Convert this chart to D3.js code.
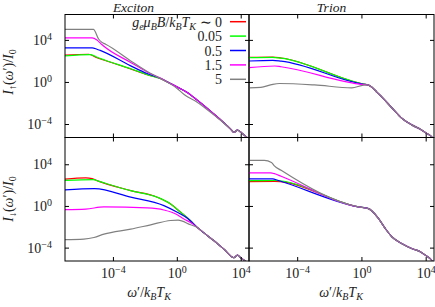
<!DOCTYPE html>
<html>
<head>
<meta charset="utf-8">
<style>
  body { margin: 0; background: #fff; }
  svg text { font-family: "Liberation Serif", serif; fill: #222; }
  svg .tick text { font-size: 14px; }
  svg .tick line { stroke: #000; stroke-width: 1px; }
  svg .frame { fill: none; stroke: #000; stroke-width: 1px; }
  svg .curve { fill: none; stroke-width: 1.2px; stroke-linejoin: round; }
</style>
</head>
<body>
<svg id="chart" width="435" height="307"></svg>
<script src="https://d3js.org/d3.v7.min.js"></script>
<script>
  // tick values and legend
  var omegaTicks = [1e-4, 1, 1e4];
  var intensityTicks = [1e-4, 1, 1e4];
  var fieldLabels = ["0", "0.05", "0.5", "1.5", "5"];
  var fieldColors = ["#ff0000", "#00ff00", "#0000ff", "#ff00ff", "#808080"];
  var panelTitles = ["Exciton", "Trion"];

  // Exciton, I_up  [omega'/kT, I/I0]
  var excUpTail = [[0.32, 0.85], [1, 0.35], [4, 0.11], [19, 0.0186], [214, 8.7e-4], [2340, 3.3e-5],
                   [3800, 1.6e-5], [6200, 2.6e-5], [1.1e4, 1.5e-5], [3.3e4, 3.5e-6]];
  var excUp0   = [[1e-7, 360], [3e-6, 430], [1e-5, 200], [3e-5, 115], [1.3e-3, 17], [0.014, 4.8], [0.1, 2.0]];
  var excUp005 = [[1e-7, 300], [4e-6, 390], [1.1e-5, 210], [3e-5, 122], [1.3e-3, 18], [0.014, 5], [0.1, 2.0]];
  var excUp05  = [[1e-7, 1750], [5e-6, 1750], [1e-5, 1300], [1.6e-5, 1000], [1.3e-3, 34], [0.014, 6.3], [0.1, 2.1]];
  var excUp15  = [[1e-7, 15500], [5e-6, 15500], [1e-5, 10000], [2.1e-5, 3400], [1.3e-3, 71], [0.014, 9], [0.1, 2.2]];
  var excUp5   = [[1e-7, 1e5], [6e-6, 1e5], [1.3e-5, 1.15e4], [2.1e-5, 5600], [3.5e-5, 3900], [1.3e-3, 100],
                  [0.014, 10], [0.1, 2.0], [1, 0.25], [3, 0.06], [19, 0.012], [214, 7e-4]];

  // Trion, I_up
  var triUpTail = [[2.5, 0.52], [4.5, 0.32], [9.1, 0.107], [19, 0.036], [81, 3.3e-3], [340, 3.3e-4],
                   [1450, 7.8e-5], [4900, 3e-5], [1e4, 1.45e-5], [2.6e4, 5.2e-6], [3.3e4, 3e-6]];
  var triUp0   = [[1e-7, 215], [3e-6, 230], [1e-5, 190], [1.35, 0.62]];
  var triUp005 = [[1e-7, 205], [3e-6, 220], [1e-5, 182], [1.35, 0.62]];
  var triUp05  = [[1e-7, 98], [3e-6, 112], [1e-5, 95], [1.35, 0.6]];
  var triUp15  = [[1e-7, 23], [4e-6, 33], [1e-5, 28], [1.35, 0.56]];
  var triUp5   = [[1e-7, 0.275], [5.5e-7, 0.3], [2.5e-6, 0.55], [7.8e-6, 0.71], [1.2e-3, 0.52],
                  [0.25, 0.275], [1.35, 0.5]];

  // Exciton, I_down
  var excDnTail = [[19, 8.7e-3], [50, 2.6e-3], [214, 4.5e-4], [890, 7e-5], [3800, 1.07e-5],
                   [6200, 1.95e-5], [1e4, 1.07e-5], [3.3e4, 3e-6]];
  var excDn0   = [[1e-7, 380], [2e-6, 500], [5e-6, 420], [1e-5, 270], [1.3e-3, 30], [0.06, 6.9],
                  [0.41, 1.55], [1.74, 0.245], [7.2, 0.038]];
  var excDn005 = [[1e-7, 280], [6e-6, 330], [1.2e-5, 240], [1.3e-3, 29], [0.06, 6.9],
                  [0.41, 1.55], [1.74, 0.245], [7.2, 0.038]];
  var excDn05  = [[1e-7, 35], [7e-6, 45], [1.3e-3, 6.9], [0.155, 1.07], [1.07, 0.245], [4.6, 0.065]];
  var excDn15  = [[1e-7, 0.45], [2e-6, 0.5], [2.75e-5, 0.8], [0.014, 0.65], [0.155, 0.41], [1.07, 0.145],
                  [2.8, 0.055], [7.2, 0.026]];
  var excDn5   = [[1e-7, 5.8e-4], [1.5e-6, 6.5e-4], [6.5e-6, 9.3e-4], [2.75e-5, 1.95e-3], [1.3e-3, 5.9e-3],
                  [0.023, 0.0155], [0.41, 0.04], [1.2, 0.043], [7.2, 0.0155]];

  // Trion, I_down
  var triDnTail = [[0.65, 0.8], [2.75, 0.55], [4.5, 0.33], [11.7, 0.06], [31, 6.6e-3], [81, 1.05e-3],
                   [340, 2.4e-4], [1450, 7.9e-5], [4900, 3.8e-5], [1e4, 1.8e-5], [2.6e4, 5.2e-6], [3.3e4, 3e-6]];
  var triDn0   = [[1e-7, 220], [4e-6, 225]];
  var triDn005 = [[1e-7, 270], [3.8e-6, 275]];
  var triDn05  = [[1e-7, 390], [3e-6, 400], [6.1e-6, 290]];
  var triDn15  = [[1e-7, 1480], [2.3e-6, 1480], [3.8e-6, 1260], [1e-5, 700]];
  var triDn5   = [[1e-7, 24000], [9e-7, 24000], [2.5e-6, 15000], [3.8e-6, 6900], [1e-5, 2600]];

  function withTail(head, tail) {
    var last = head[head.length - 1][0];
    return head.concat(tail.filter(function (p) { return p[0] > last; }));
  }

  var panels = [
    { col: 0, row: 0, series: [excUp0, excUp005, excUp05, excUp15, excUp5].map(function (s) { return withTail(s, excUpTail); }) },
    { col: 1, row: 0, series: [triUp0, triUp005, triUp05, triUp15, triUp5].map(function (s) { return withTail(s, triUpTail); }) },
    { col: 0, row: 1, series: [excDn0, excDn005, excDn05, excDn15, excDn5].map(function (s) { return withTail(s, excDnTail); }) },
    { col: 1, row: 1, series: [triDn0, triDn005, triDn05, triDn15, triDn5].map(function (s) { return withTail(s, triDnTail); }) }
  ];

  var colX = [[65, 249], [249, 434]];
  var rowY = [[14.5, 137.5], [137.5, 261]];
  var rowDomain = [[5.2e-6, 2.6e6], [5.2e-6, 3.7e6]];
  var xDomain = [1e-7, 3.3e4];

  var svg = d3.select("#chart");
  var defs = svg.append("defs");

  function powLabels(g) {
    g.selectAll(".tick text").each(function (d) {
      var t = d3.select(this).text(null);
      t.append("tspan").text("10");
      t.append("tspan")
        .attr("dy", "-0.45em")
        .attr("font-size", "10px")
        .text(String(Math.round(Math.log10(d))).replace("-", "\u2212"));
    });
  }

  panels.forEach(function (p, i) {
    var xr = colX[p.col], yr = rowY[p.row];
    var xScale = d3.scaleLog().domain(xDomain).range(xr);
    var yScale = d3.scaleLog().domain(rowDomain[p.row]).range([yr[1], yr[0]]);

    defs.append("clipPath").attr("id", "clip" + i)
      .append("rect")
        .attr("x", xr[0]).attr("y", yr[0])
        .attr("width", xr[1] - xr[0]).attr("height", yr[1] - yr[0]);

    var line = d3.line()
      .x(function (d) { return xScale(d[0]); })
      .y(function (d) { return yScale(d[1]); })
      .curve(d3.curveMonotoneX);

    svg.append("g").attr("clip-path", "url(#clip" + i + ")")
      .selectAll("path")
      .data(p.series)
      .enter().append("path")
        .classed("curve", true)
        .attr("d", line)
        .style("stroke", function (d, k) { return fieldColors[k]; });

    // inward ticks on all four sides
    var bottom = svg.append("g").attr("transform", "translate(0," + yr[1] + ")")
      .call(d3.axisBottom(xScale).tickValues(omegaTicks).tickSize(-4).tickPadding(7));
    var top = svg.append("g").attr("transform", "translate(0," + yr[0] + ")")
      .call(d3.axisTop(xScale).tickValues(omegaTicks).tickSize(-4).tickFormat(""));
    var left = svg.append("g").attr("transform", "translate(" + xr[0] + ",0)")
      .call(d3.axisLeft(yScale).tickValues(intensityTicks).tickSize(-4).tickPadding(13));
    var right = svg.append("g").attr("transform", "translate(" + xr[1] + ",0)")
      .call(d3.axisRight(yScale).tickValues(intensityTicks).tickSize(-4).tickFormat(""));
    svg.selectAll(".domain").remove();

    if (p.row === 1) powLabels(bottom); else bottom.selectAll(".tick text").remove();
    if (p.col === 0) powLabels(left); else left.selectAll(".tick text").remove();

    svg.append("rect").classed("frame", true)
      .attr("x", xr[0]).attr("y", yr[0])
      .attr("width", xr[1] - xr[0]).attr("height", yr[1] - yr[0]);
  });

  // titles
  svg.selectAll("text.title")
    .data(panelTitles)
    .enter().append("text")
      .classed("title", true)
      .attr("x", function (d, i) { return i === 0 ? 133.5 : 331.5; })
      .attr("y", 11.5)
      .attr("text-anchor", "middle")
      .style("font-size", "13.5px")
      .style("font-style", "italic")
      .text(function (d) { return d; });

  // x labels: omega'/k_B T_K
  [149, 341].forEach(function (cx) {
    var t = svg.append("text").attr("x", cx).attr("y", 297).attr("text-anchor", "middle").style("font-size", "14px");
    t.append("tspan").style("font-style", "italic").text("\u03c9");
    t.append("tspan").text("\u2032/");
    t.append("tspan").style("font-style", "italic").text("k");
    t.append("tspan").attr("dy", 3).attr("font-size", "10px").style("font-style", "italic").text("B");
    t.append("tspan").attr("dy", -3).style("font-style", "italic").text("T");
    t.append("tspan").attr("dy", 3).attr("font-size", "10px").style("font-style", "italic").text("K");
  });

  // y labels: I_arrow(omega')/I_0
  [["\u2191", 72], ["\u2193", 199]].forEach(function (a) {
    var t = svg.append("text")
      .attr("transform", "translate(13," + a[1] + ") rotate(-90)")
      .attr("text-anchor", "middle").style("font-size", "14px");
    t.append("tspan").style("font-style", "italic").text("I");
    t.append("tspan").attr("dy", 3).attr("font-size", "10px").text(a[0]);
    t.append("tspan").attr("dy", -3).text("(");
    t.append("tspan").style("font-style", "italic").text("\u03c9");
    t.append("tspan").text("\u2032)/");
    t.append("tspan").style("font-style", "italic").text("I");
    t.append("tspan").attr("dy", 3).attr("font-size", "10px").text("0");
  });

  // legend
  var legend = svg.append("g");
  fieldLabels.forEach(function (lab, k) {
    var y = 21.7 + k * 14.4;
    legend.append("line")
      .attr("x1", 230).attr("x2", 246).attr("y1", y).attr("y2", y)
      .style("stroke", fieldColors[k]).style("stroke-width", "1.5px");
    var t = legend.append("text").attr("x", 222).attr("y", y + 5)
      .attr("text-anchor", "end").style("font-size", "14px");
    if (k === 0) {
      t.append("tspan").style("font-style", "italic").text("g");
      t.append("tspan").attr("dy", 3).attr("font-size", "10px").style("font-style", "italic").text("e");
      t.append("tspan").attr("dy", -3).style("font-style", "italic").text("\u03bc");
      t.append("tspan").attr("dy", 3).attr("font-size", "10px").style("font-style", "italic").text("B");
      t.append("tspan").attr("dy", -3).style("font-style", "italic").text("B");
      t.append("tspan").text("/");
      t.append("tspan").style("font-style", "italic").text("k");
      t.append("tspan").attr("dy", 3).attr("font-size", "10px").style("font-style", "italic").text("B");
      t.append("tspan").attr("dy", -3).style("font-style", "italic").text("T");
      t.append("tspan").attr("dy", 3).attr("font-size", "10px").style("font-style", "italic").text("K");
      t.append("tspan").attr("dy", -3).text(" \u223c " + lab);
    } else {
      t.text(lab);
    }
  });
</script>
</body>
</html>
